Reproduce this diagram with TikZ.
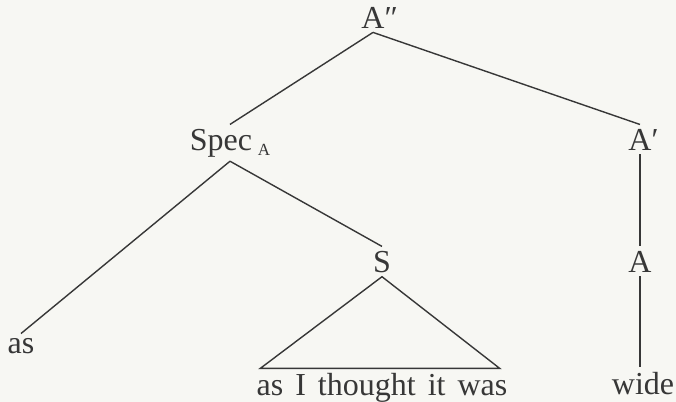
\documentclass[tikz,border=0pt]{standalone}
\usepackage{fontspec}
\setmainfont{Liberation Serif}
\usepackage{tikz}
\usetikzlibrary{positioning}

\definecolor{paper}{RGB}{247,247,243}
\definecolor{ink}{RGB}{55,55,55}

\begin{document}
\begin{tikzpicture}[
    x=0.5pt, y=-0.5pt,
    cat/.style={anchor=base, inner sep=2pt, text=ink,
    font=\fontsize{16}{19}\selectfont},
    branch/.style={draw=ink, line width=0.7pt} ]

    % Background and frame
    \fill[paper] (0,0) rectangle (676,402);
    \useasboundingbox (0,0) rectangle (676,402);

    % Nodes for the upper levels
    \node[cat] (App) at (373,28) {A\rlap{″}};
    \node[cat] (Spec) at (230,150)
	    {Spec\hspace{3pt}\raisebox{-2.5pt}{\fontsize{8.5}{9}\selectfont A}};
    \node[cat] (Ap) at (640,150) {A\rlap{′}};

    % Nodes for the lower levels
    \node[cat] (as) at (21,353) {as};
    \node[cat] (S) at (382,272) {S};
    \node[cat] (A) at (640,272) {A};
    \node[cat] (phrase) at (382,395)
	    {\spaceskip=6pt as I thought it was};
    \node[cat] (wide) at (643,394) {wide};

    % Branches of the tree
    \draw[branch] (App.south) -- (Spec.north);
    \draw[branch] (App.south) -- (Ap.north);
    \draw[branch] (Spec.south) -- (as.north);
    \draw[branch] (Spec.south) -- (S.north);
    \draw[branch] (Ap.south) -- (A.north);
    \draw[branch] (A.south) -- (A.south |- wide.north);

    % Triangle over the phrase
    \draw[branch] (S.south) -- ([xshift=4]phrase.north west)
	    -- ([xshift=-6]phrase.north east) -- cycle;

  \end{tikzpicture}
\end{document}
